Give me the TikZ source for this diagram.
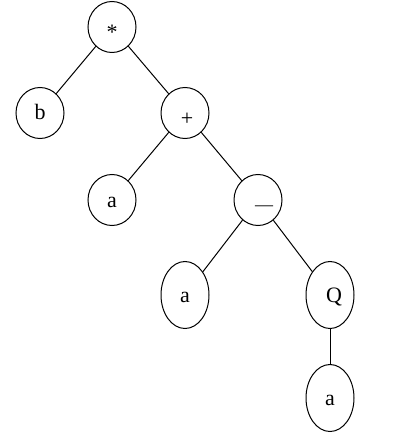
\documentclass[tikz,border=0pt]{standalone}
\usepackage{fontspec}
\setmainfont{Liberation Serif}
\usetikzlibrary{shapes.geometric}

\begin{document}
\begin{tikzpicture}[x=1pt,y=-1pt,
  vertex/.style={ellipse, draw, line width=1pt, inner sep=0pt,
    minimum width=48pt, minimum height=51pt,
    font=\fontsize{22}{26}\selectfont, text height=14pt, text depth=0pt},
  tall/.style={vertex, minimum height=67pt}]
\useasboundingbox (0,0) rectangle (400,438);

% expression tree nodes
\node[vertex] (mul) at (112,27) {\raisebox{-6pt}{*}};
\node[vertex] (b)   at (40,113)  {b};
\node[vertex] (add) at (185,113) {\hspace{4pt}\raisebox{-6pt}{+}};
\node[vertex] (a1)  at (112,200) {a};
\node[vertex] (sub) at (258,200) {\hspace{12pt}\raisebox{-3pt}{\fontsize{18}{20}\selectfont---}};
\node[tall]   (a2)  at (185,295) {a};
\node[tall]   (q)   at (330,295) {\hspace{8pt}Q};
\node[tall]   (a3)  at (330,398) {a};

% edges
\foreach \u/\v in {mul/b, mul/add, add/a1, add/sub, sub/a2, sub/q, q/a3}
  \draw[line width=1pt] (\u) -- (\v);
\end{tikzpicture}
\end{document}
